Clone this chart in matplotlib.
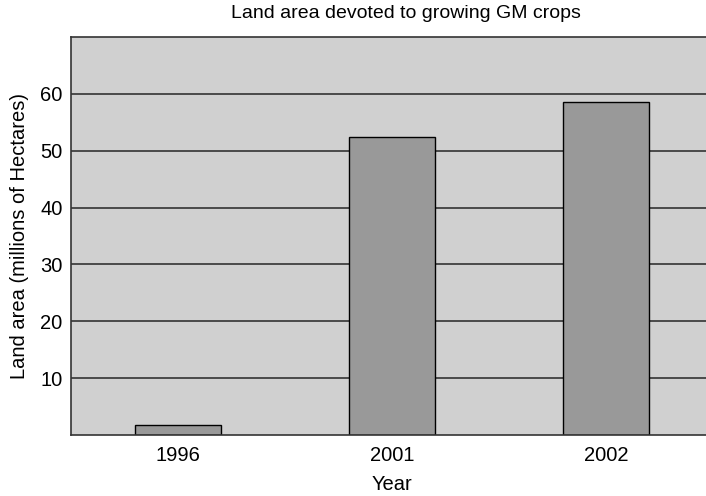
import matplotlib
matplotlib.use("Agg")
from matplotlib import pyplot as plt

# data
years = ["1996", "2001", "2002"]
land_area = [1.7, 52.5, 58.6]
y_ticks = [10, 20, 30, 40, 50, 60]

plt.rcParams['font.family'] = ['Liberation Sans', 'DejaVu Sans']

fig = plt.figure(figsize=(7.06, 4.96), dpi=100)
ax = fig.add_axes([71 / 706, 61 / 496, 642 / 706, 398 / 496])
ax.set_facecolor('#d0d0d0')

# gridlines behind the bars
for v in y_ticks:
    ax.axhline(v, color='#333333', linewidth=1.2, zorder=1)

x = range(len(years))
ax.bar(x, land_area, width=0.4, color='#999999', edgecolor='black',
       linewidth=1, zorder=2)

ax.set_xlim(-0.5, 2.5)
ax.set_ylim(0, 70)
ax.set_xticks(list(x))
ax.set_xticklabels(years)
ax.set_yticks(y_ticks)
ax.tick_params(axis='x', length=0, labelsize=14.5, pad=8)
ax.tick_params(axis='y', length=0, labelsize=14.5, pad=6)

for side in ['top', 'left', 'bottom']:
    ax.spines[side].set_color('#333333')
    ax.spines[side].set_linewidth(1.2)
ax.spines['right'].set_visible(False)

ax.set_title('Land area devoted to growing GM crops', fontsize=14, pad=14,
             x=(406 - 71) / 642)
ax.set_xlabel('Year', fontsize=14.5, labelpad=7)
ax.set_ylabel('Land area (millions of Hectares)', fontsize=14.5, labelpad=8)

fig.savefig('out.png', dpi=100)
